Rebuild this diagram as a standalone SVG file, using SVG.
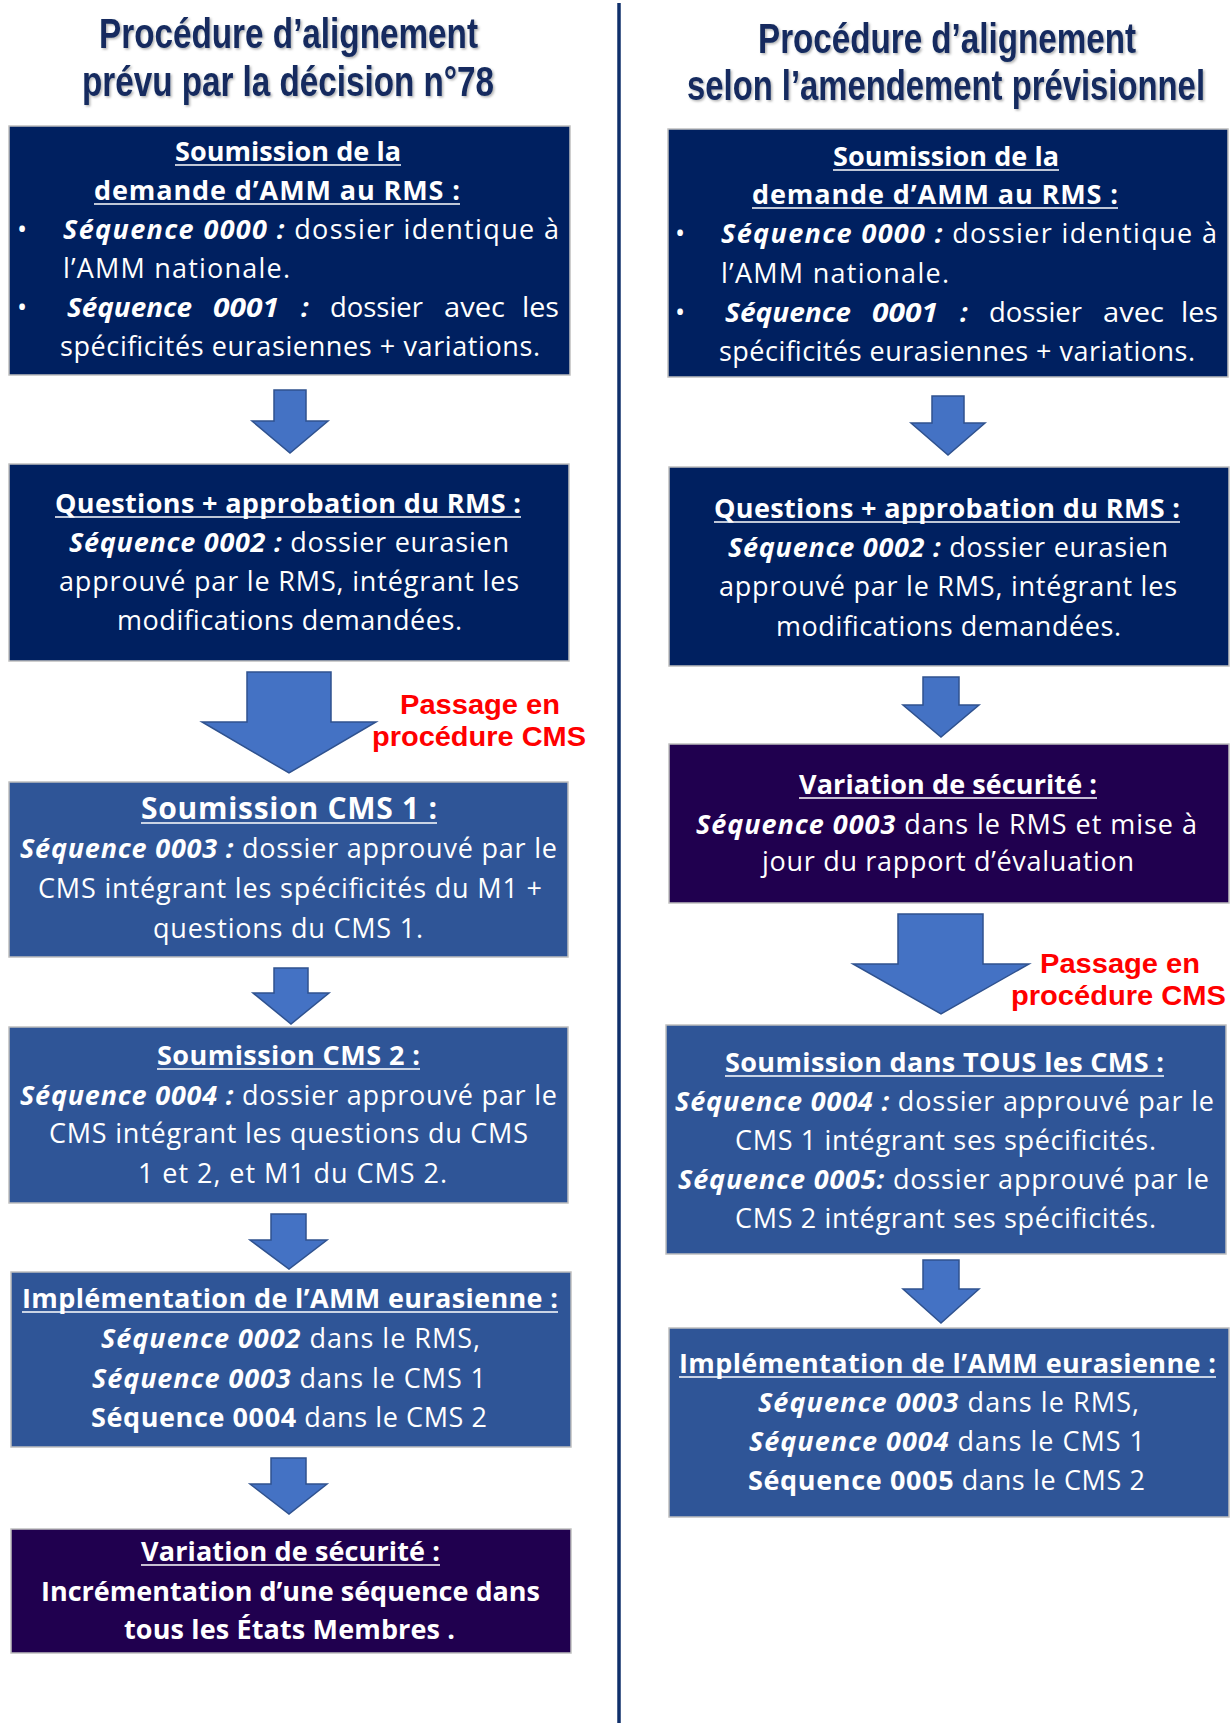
<svg xmlns="http://www.w3.org/2000/svg" width="1231" height="1723" viewBox="0 0 1231 1723">
<defs>
<filter id="sh" filterUnits="userSpaceOnUse" x="0" y="0" width="1231" height="130"><feDropShadow dx="1.5" dy="1.5" stdDeviation="0.8" flood-color="#000" flood-opacity="0.3"/></filter>
<style>
.t{font-family:"Liberation Sans Narrow","Liberation Sans",Arial,sans-serif;font-weight:bold;font-size:32px;fill:#132B5E}
.b{font-family:"Open Sans","Noto Sans","Liberation Sans",sans-serif;font-size:27px;fill:#fff}
.h{font-weight:bold}
.bi{font-weight:bold;font-style:italic}
.big{font-size:30px}
.ul{stroke:#fff;stroke-width:1.6}
.navy{fill:#002060;stroke:#BFBFBF;stroke-width:1.5}
.blue{fill:#2F5597;stroke:#BFBFBF;stroke-width:1.5}
.purple{fill:#20004F;stroke:#BFBFBF;stroke-width:1.5}
.arr{fill:#4472C4;stroke:#2F528F;stroke-width:1.5}
.red{font-family:"Liberation Sans",Arial,sans-serif;font-weight:bold;font-size:27px;fill:#FF0000}
</style>
</defs>
<rect x="0" y="0" width="1231" height="1723" fill="#fff"/>

<line id="divider" x1="619" y1="3" x2="619" y2="1723" stroke="#10306B" stroke-width="3.5"/>

<g id="title-left" filter="url(#sh)">
<text class="t" transform="translate(99,48) scale(1,1.3125)" x="0" y="0" textLength="379" lengthAdjust="spacingAndGlyphs">Procédure d’alignement</text>
<text class="t" transform="translate(82,96) scale(1,1.3125)" x="0" y="0" textLength="412" lengthAdjust="spacingAndGlyphs">prévu par la décision n°78</text>
</g>
<g id="title-right" filter="url(#sh)">
<text class="t" transform="translate(758,53) scale(1,1.3125)" x="0" y="0" textLength="378" lengthAdjust="spacingAndGlyphs">Procédure d’alignement</text>
<text class="t" transform="translate(687,100) scale(1,1.3125)" x="0" y="0" textLength="518" lengthAdjust="spacingAndGlyphs">selon l’amendement prévisionnel</text>
</g>

<!-- LEFT COLUMN -->
<g id="L1">
<rect class="navy" x="9" y="126" width="561" height="249"/>
<text class="b h" x="175" y="161" textLength="226">Soumission  de la</text>
<line class="ul" x1="175" y1="165" x2="401" y2="165"/>
<text class="b h" x="94" y="200" textLength="366">demande d’AMM  au RMS :</text>
<line class="ul" x1="94" y1="204" x2="460" y2="204"/>
<text class="b" x="22" y="239" text-anchor="middle">•</text>
<text class="b" x="63" y="239" textLength="496"><tspan class="bi">Séquence 0000 :</tspan> dossier identique à</text>
<text class="b" x="63" y="278" textLength="227">l’AMM nationale.</text>
<text class="b" x="22" y="317" text-anchor="middle">•</text>
<text class="b bi" x="67" y="317" textLength="125" lengthAdjust="spacingAndGlyphs">Séquence</text>
<text class="b bi" x="213" y="317" textLength="66" lengthAdjust="spacingAndGlyphs">0001</text>
<text class="b bi" x="301" y="317">:</text>
<text class="b" x="330" y="317" textLength="93" lengthAdjust="spacingAndGlyphs">dossier</text>
<text class="b" x="444" y="317" textLength="61" lengthAdjust="spacingAndGlyphs">avec</text>
<text class="b" x="522" y="317" textLength="37" lengthAdjust="spacingAndGlyphs">les</text>
<text class="b" x="60" y="356" textLength="480">spécificités eurasiennes  + variations.</text>
</g>

<g id="L2">
<rect class="navy" x="9" y="464" width="560" height="197"/>
<text class="b h" x="55" y="513" textLength="466">Questions + approbation  du RMS :</text>
<line class="ul" x1="55" y1="517" x2="521" y2="517"/>
<text class="b" x="69" y="552" textLength="440"><tspan class="bi">Séquence 0002 :</tspan> dossier eurasien</text>
<text class="b" x="59" y="591" textLength="460">approuvé par le RMS, intégrant les</text>
<text class="b" x="117" y="630" textLength="345">modifications demandées.</text>
</g>

<g id="L3">
<rect class="blue" x="9" y="782" width="559" height="175"/>
<text class="b h big" x="141" y="819" textLength="296">Soumission CMS 1 :</text>
<line class="ul" x1="141" y1="823" x2="437" y2="823"/>
<text class="b" x="20" y="858" textLength="537"><tspan class="bi">Séquence 0003 :</tspan> dossier approuvé par le</text>
<text class="b" x="38" y="898" textLength="504">CMS intégrant les spécificités du M1 +</text>
<text class="b" x="153" y="938" textLength="270">questions du CMS 1.</text>
</g>

<g id="L4">
<rect class="blue" x="9" y="1027" width="559" height="176"/>
<text class="b h" x="157" y="1065" textLength="263">Soumission  CMS 2 :</text>
<line class="ul" x1="157" y1="1069" x2="420" y2="1069"/>
<text class="b" x="20" y="1105" textLength="537"><tspan class="bi">Séquence 0004 :</tspan> dossier approuvé par le</text>
<text class="b" x="49" y="1143" textLength="479">CMS intégrant les questions du CMS</text>
<text class="b" x="138" y="1183" textLength="309">1 et 2, et M1 du CMS 2.</text>
</g>

<g id="L5">
<rect class="blue" x="11" y="1272" width="560" height="175"/>
<text class="b h" x="22" y="1308" textLength="536">Implémentation  de l’AMM  eurasienne :</text>
<line class="ul" x1="22" y1="1312" x2="558" y2="1312"/>
<text class="b" x="101" y="1348" textLength="379"><tspan class="bi">Séquence 0002</tspan> dans le RMS,</text>
<text class="b" x="92" y="1388" textLength="394"><tspan class="bi">Séquence 0003</tspan> dans le CMS 1</text>
<text class="b" x="91" y="1427" textLength="396"><tspan class="h">Séquence 0004</tspan> dans le CMS 2</text>
</g>

<g id="L6">
<rect class="purple" x="11" y="1529" width="560" height="124"/>
<text class="b h" x="141" y="1561" textLength="299">Variation  de sécurité :</text>
<line class="ul" x1="141" y1="1565" x2="440" y2="1565"/>
<text class="b h" x="41" y="1601" textLength="499">Incrémentation  d’une séquence dans</text>
<text class="b h" x="124" y="1639" textLength="331">tous les États Membres .</text>
</g>

<!-- RIGHT COLUMN -->
<g id="R1">
<rect class="navy" x="668" y="129" width="560" height="248"/>
<text class="b h" x="833" y="166" textLength="226">Soumission  de la</text>
<line class="ul" x1="833" y1="170" x2="1059" y2="170"/>
<text class="b h" x="752" y="204" textLength="366">demande d’AMM  au RMS :</text>
<line class="ul" x1="752" y1="208" x2="1118" y2="208"/>
<text class="b" x="680" y="243" text-anchor="middle">•</text>
<text class="b" x="721" y="243" textLength="496"><tspan class="bi">Séquence 0000 :</tspan> dossier identique à</text>
<text class="b" x="721" y="283" textLength="228">l’AMM nationale.</text>
<text class="b" x="680" y="322" text-anchor="middle">•</text>
<text class="b bi" x="725" y="322" textLength="126" lengthAdjust="spacingAndGlyphs">Séquence</text>
<text class="b bi" x="872" y="322" textLength="66" lengthAdjust="spacingAndGlyphs">0001</text>
<text class="b bi" x="960" y="322">:</text>
<text class="b" x="989" y="322" textLength="93" lengthAdjust="spacingAndGlyphs">dossier</text>
<text class="b" x="1103" y="322" textLength="61" lengthAdjust="spacingAndGlyphs">avec</text>
<text class="b" x="1181" y="322" textLength="37" lengthAdjust="spacingAndGlyphs">les</text>
<text class="b" x="719" y="361" textLength="476">spécificités eurasiennes  + variations.</text>
</g>

<g id="R2">
<rect class="navy" x="669" y="467" width="560" height="199"/>
<text class="b h" x="714" y="518" textLength="466">Questions + approbation  du RMS :</text>
<line class="ul" x1="714" y1="522" x2="1180" y2="522"/>
<text class="b" x="728" y="557" textLength="440"><tspan class="bi">Séquence 0002 :</tspan> dossier eurasien</text>
<text class="b" x="719" y="596" textLength="458">approuvé par le RMS, intégrant les</text>
<text class="b" x="776" y="636" textLength="345">modifications demandées.</text>
</g>

<g id="R3">
<rect class="purple" x="669" y="744" width="560" height="159"/>
<text class="b h" x="799" y="794" textLength="298">Variation  de sécurité :</text>
<line class="ul" x1="799" y1="798" x2="1097" y2="798"/>
<text class="b" x="696" y="834" textLength="501"><tspan class="bi">Séquence 0003</tspan> dans le RMS et mise à</text>
<text class="b" x="762" y="871" textLength="372">jour du rapport d’évaluation</text>
</g>

<g id="R4">
<rect class="blue" x="666" y="1025" width="560" height="229"/>
<text class="b h" x="725" y="1072" textLength="439">Soumission  dans TOUS les CMS :</text>
<line class="ul" x1="725" y1="1076" x2="1164" y2="1076"/>
<text class="b" x="675" y="1111" textLength="539"><tspan class="bi">Séquence 0004 :</tspan> dossier approuvé par le</text>
<text class="b" x="735" y="1150" textLength="421">CMS 1 intégrant ses spécificités.</text>
<text class="b" x="678" y="1189" textLength="531"><tspan class="bi">Séquence 0005:</tspan> dossier approuvé par le</text>
<text class="b" x="735" y="1228" textLength="421">CMS 2 intégrant ses spécificités.</text>
</g>

<g id="R5">
<rect class="blue" x="669" y="1328" width="560" height="189"/>
<text class="b h" x="679" y="1373" textLength="537">Implémentation  de l’AMM  eurasienne :</text>
<line class="ul" x1="679" y1="1377" x2="1216" y2="1377"/>
<text class="b" x="758" y="1412" textLength="381"><tspan class="bi">Séquence 0003</tspan> dans le RMS,</text>
<text class="b" x="749" y="1451" textLength="396"><tspan class="bi">Séquence 0004</tspan> dans le CMS 1</text>
<text class="b" x="748" y="1490" textLength="397"><tspan class="h">Séquence 0005</tspan> dans le CMS 2</text>
</g>

<g id="connectors">
<polygon class="arr" points="274,390 306,390 306,421 328,421 290,453 252,421 274,421"/>
<polygon class="arr" points="247,672 331,672 331,722 376,722 289,773 202,722 247,722"/>
<polygon class="arr" points="274,968 308,968 308,993 329,993 291,1024 253,993 274,993"/>
<polygon class="arr" points="271,1214 306,1214 306,1240 327,1240 289,1269 250,1240 271,1240"/>
<polygon class="arr" points="271,1458 306,1458 306,1484 327,1484 289,1514 250,1484 271,1484"/>
<polygon class="arr" points="932,396 964,396 964,423 985,423 948,455 911,423 932,423"/>
<polygon class="arr" points="923,677 959,677 959,705 979,705 941,737 903,705 923,705"/>
<polygon class="arr" points="898,914 983,914 983,964 1029,964 941,1014 853,964 898,964"/>
<polygon class="arr" points="923,1260 959,1260 959,1289 979,1289 941,1323 903,1289 923,1289"/>
<text class="red" x="400" y="714" textLength="160" lengthAdjust="spacingAndGlyphs">Passage en</text>
<text class="red" x="372" y="746" textLength="214" lengthAdjust="spacingAndGlyphs">procédure CMS</text>
<text class="red" x="1040" y="973" textLength="160" lengthAdjust="spacingAndGlyphs">Passage en</text>
<text class="red" x="1011" y="1005" textLength="215" lengthAdjust="spacingAndGlyphs">procédure CMS</text>
</g>
</svg>
